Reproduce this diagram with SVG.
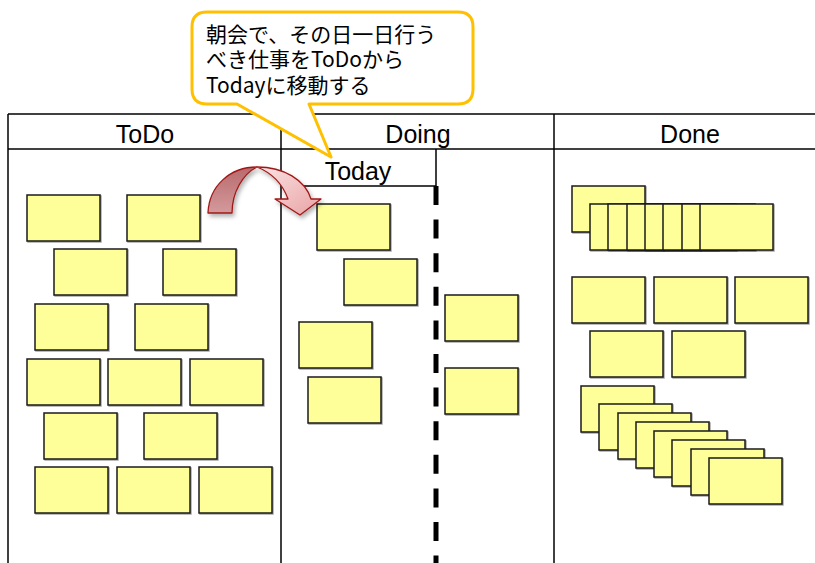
<svg xmlns="http://www.w3.org/2000/svg" width="815" height="563" viewBox="0 0 815 563">
<defs>
<style>
.note{fill:#FFFF99;stroke:#1a1a1a;stroke-width:1.5;filter:url(#sh)}
.ln{stroke:#000;stroke-width:1.5;fill:none}
.hdr{font-family:"Liberation Sans","Noto Sans CJK JP",sans-serif;font-size:25px;fill:#000;text-anchor:middle}
.cap{font-family:"Noto Sans CJK JP","Liberation Sans",sans-serif;font-size:21px;fill:#000}
</style>
<filter id="sh" x="-10%" y="-10%" width="125%" height="125%">
<feDropShadow dx="1" dy="1" stdDeviation="0.6" flood-color="#000" flood-opacity="0.35"/>
</filter>
<filter id="ash" x="-20%" y="-20%" width="150%" height="150%">
<feDropShadow dx="2" dy="3" stdDeviation="2" flood-color="#000" flood-opacity="0.3"/>
</filter>
<linearGradient id="gBack" x1="0" y1="0" x2="0" y2="1">
<stop offset="0" stop-color="#B86A6C"/>
<stop offset="1" stop-color="#D49A9C"/>
</linearGradient>
<linearGradient id="gFront" x1="0" y1="0" x2="1" y2="1">
<stop offset="0" stop-color="#FBE3E3"/>
<stop offset="1" stop-color="#E9A3A5"/>
</linearGradient>
</defs>

<g id="table">
<line class="ln" x1="8" y1="114" x2="815" y2="114"/>
<line class="ln" x1="8" y1="149" x2="815" y2="149"/>
<line class="ln" x1="8" y1="114" x2="8" y2="563"/>
<line class="ln" x1="281" y1="114" x2="281" y2="563"/>
<line class="ln" x1="554" y1="114" x2="554" y2="563"/>
<line class="ln" x1="436" y1="149" x2="436" y2="186"/>
<line class="ln" x1="281" y1="186" x2="436" y2="186"/>
<line x1="436" y1="186" x2="436" y2="563" stroke="#000" stroke-width="5" stroke-dasharray="19 14.6"/>
<text class="hdr" x="145" y="143">ToDo</text>
<text class="hdr" x="418" y="143">Doing</text>
<text class="hdr" x="690" y="143">Done</text>
<text class="hdr" x="358" y="180">Today</text>
</g>

<g id="todo-notes">
<rect class="note" x="27" y="195" width="73" height="46"/>
<rect class="note" x="127" y="195" width="73" height="46"/>
<rect class="note" x="54" y="249" width="73" height="46"/>
<rect class="note" x="163" y="249" width="73" height="46"/>
<rect class="note" x="35" y="304" width="73" height="46"/>
<rect class="note" x="135" y="304" width="73" height="46"/>
<rect class="note" x="27" y="359" width="73" height="46"/>
<rect class="note" x="108" y="359" width="73" height="46"/>
<rect class="note" x="190" y="359" width="73" height="46"/>
<rect class="note" x="44" y="413" width="73" height="46"/>
<rect class="note" x="144" y="413" width="73" height="46"/>
<rect class="note" x="35" y="467" width="73" height="46"/>
<rect class="note" x="117" y="467" width="73" height="46"/>
<rect class="note" x="199" y="467" width="73" height="46"/>
</g>

<g id="doing-notes">
<rect class="note" x="317" y="204" width="73" height="46"/>
<rect class="note" x="344" y="259" width="73" height="46"/>
<rect class="note" x="299" y="322" width="73" height="46"/>
<rect class="note" x="308" y="377" width="73" height="46"/>
<rect class="note" x="445" y="295" width="73" height="46"/>
<rect class="note" x="445" y="368" width="73" height="46"/>
</g>

<g id="done-notes">
<rect class="note" x="572" y="186" width="73" height="46"/>
<rect class="note" x="590" y="204" width="73" height="46"/>
<rect class="note" x="608" y="204" width="73" height="46"/>
<rect class="note" x="627" y="204" width="73" height="46"/>
<rect class="note" x="645" y="204" width="73" height="46"/>
<rect class="note" x="663" y="204" width="73" height="46"/>
<rect class="note" x="682" y="204" width="73" height="46"/>
<rect class="note" x="700" y="204" width="73" height="46"/>
<rect class="note" x="572" y="277" width="73" height="46"/>
<rect class="note" x="654" y="277" width="73" height="46"/>
<rect class="note" x="735" y="277" width="73" height="46"/>
<rect class="note" x="590" y="331" width="73" height="46"/>
<rect class="note" x="672" y="331" width="73" height="46"/>
<rect class="note" x="581" y="386" width="73" height="46"/>
<rect class="note" x="599" y="404" width="73" height="46"/>
<rect class="note" x="618" y="413" width="73" height="46"/>
<rect class="note" x="636" y="422" width="73" height="46"/>
<rect class="note" x="654" y="431" width="73" height="46"/>
<rect class="note" x="672" y="440" width="73" height="46"/>
<rect class="note" x="691" y="449" width="73" height="46"/>
<rect class="note" x="709" y="458" width="73" height="46"/>
</g>

<g id="connectors">
<g id="move-arrow" filter="url(#ash)" stroke="#A01818" stroke-width="1.3" stroke-linejoin="round">
<path d="M 208 213 C 209 186 230 167 257 167 C 243 174 232 192 232 213 Z" fill="url(#gBack)"/>
<path d="M 257 167 C 284 167 305 180 311 199 L 321 199 L 300 215 L 275 199 L 288 199 C 283 185 272 173 257 167 Z" fill="url(#gFront)"/>
</g>
</g>

<g id="callout">
<path d="M 207 12 H 458 Q 473 12 473 27 V 89 Q 473 104 458 104 H 309 L 331 157 L 237 104 H 207 Q 192 104 192 89 V 27 Q 192 12 207 12 Z" fill="#fff" stroke="#FFC000" stroke-width="3" stroke-linejoin="round"/>
<text class="cap" x="206" y="42">朝会で、その日一日行う</text>
<text class="cap" x="206" y="67">べき仕事をToDoから</text>
<text class="cap" x="206" y="93">Todayに移動する</text>
</g>
</svg>
